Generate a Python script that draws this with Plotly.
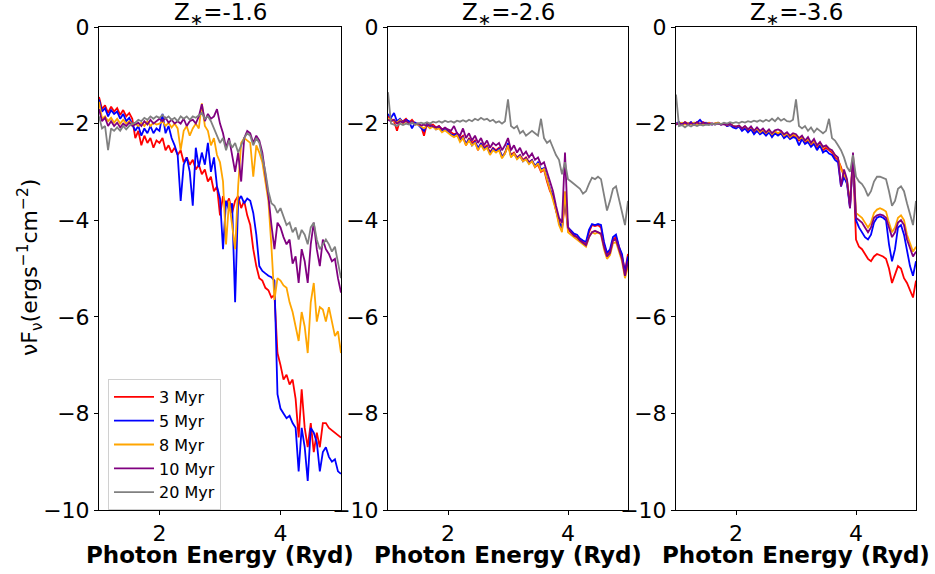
import plotly.graph_objects as go

# Photon energy grid (Ryd), shared by all spectra
energy = [round(1.0 + 0.05 * i, 2) for i in range(81)]

ages = ["3 Myr", "5 Myr", "8 Myr", "10 Myr", "20 Myr"]
colors = ["red", "blue", "orange", "purple", "gray"]
titles = ["Z<sub>∗</sub>=-1.6", "Z<sub>∗</sub>=-2.6", "Z<sub>∗</sub>=-3.6"]
ytick_vals = [0, -2, -4, -6, -8, -10]
xtick_vals = [2, 4]

# ---- Z* = -1.6 ----
p1_3 = [-1.45, -1.70, -1.62, -1.78, -1.65, -1.75, -1.68, -1.82, -1.72, -1.85,
        -1.78, -1.90, -2.30, -2.15, -2.45, -2.25, -2.40, -2.30, -2.50, -2.35,
        -2.40, -2.30, -2.55, -2.45, -2.60, -2.50, -2.65, -2.55, -2.80, -2.70,
        -2.85, -2.75, -2.95, -2.85, -3.05, -2.95, -3.20, -3.10, -3.40, -3.30,
        -3.90, -3.50, -3.70, -3.55, -3.85, -3.60, -3.50, -3.75, -3.60, -3.90,
        -4.10, -4.60, -4.95, -5.20, -5.25, -5.40, -5.45, -5.60, -5.55, -6.75,
        -7.00, -7.30, -7.20, -7.40, -7.30, -7.70, -8.50, -7.50, -8.30, -8.70,
        -8.20, -8.80, -8.40, -8.70, -8.20, -8.20, -8.30, -8.35, -8.40, -8.45,
        -8.50]
p1_5 = [-1.50, -1.75, -1.68, -1.85, -1.72, -1.80, -1.75, -1.90, -1.80, -1.95,
        -1.88, -2.00, -2.15, -2.05, -2.25, -2.10, -2.20, -2.05, -2.20, -2.10,
        -2.15, -1.80, -2.20, -2.05, -2.30, -2.45, -2.65, -3.60, -2.85, -2.70,
        -3.00, -3.70, -2.50, -2.90, -2.60, -2.85, -2.40, -3.00, -2.70, -3.30,
        -3.55, -4.60, -3.60, -3.80, -3.65, -5.70, -3.60, -3.50, -3.65, -3.55,
        -3.60, -3.85, -4.30, -4.95, -5.05, -5.10, -5.15, -5.18, -5.25, -7.60,
        -7.90, -8.00, -8.10, -8.05, -8.20, -8.30, -9.20, -8.30, -8.70, -9.40,
        -8.30, -8.40, -8.60, -9.20, -8.80, -8.70, -8.90, -9.00, -8.95, -9.20,
        -9.25]
p1_8 = [-1.55, -1.90, -1.85, -1.95, -1.88, -1.98, -1.90, -2.00, -1.92, -2.00,
        -1.95, -2.02, -2.00, -2.05, -1.98, -2.05, -1.95, -2.05, -1.98, -2.02,
        -2.00, -1.95, -2.05, -1.98, -2.08, -2.00, -2.10, -2.55, -2.15, -2.05,
        -2.25, -2.10, -2.00, -2.10, -1.58, -2.05, -2.15, -2.45, -2.30, -2.65,
        -2.80, -3.20, -4.50, -3.60, -4.10, -4.60, -3.30, -2.40, -2.30, -2.35,
        -2.40, -3.10, -2.45, -2.60, -2.80, -3.20, -3.60, -4.55, -5.65, -5.20,
        -5.25, -5.35, -5.40, -5.70, -5.90, -6.20, -6.50, -5.90, -6.20, -6.75,
        -5.70, -5.30, -6.10, -5.80, -5.85, -6.10, -5.80, -6.10, -6.40, -6.30,
        -6.75]
p1_10 = [-1.70, -1.95, -1.88, -2.05, -1.95, -2.05, -1.98, -2.08, -2.00, -2.05,
         -1.98, -2.05, -2.02, -1.98, -2.05, -1.95, -2.02, -1.92, -2.00, -1.95,
         -1.90, -1.95, -1.88, -1.98, -1.92, -2.00, -1.95, -2.00, -1.90, -2.05,
         -1.95, -1.92, -2.00, -1.85, -1.60, -1.95, -1.80, -1.90, -1.85, -1.70,
         -2.00, -2.20, -2.50, -2.30, -2.70, -3.00, -2.60, -3.20, -2.30, -2.15,
         -2.20, -2.40, -2.25, -2.35, -2.60, -3.00, -3.50, -4.10, -4.60, -4.05,
         -4.15, -4.35, -4.50, -4.40, -4.90, -4.75, -5.30, -4.60, -4.85, -5.30,
         -4.50, -4.05, -4.60, -4.95, -4.40, -4.60, -4.70, -4.85, -4.80, -5.20,
         -5.50]
p1_20 = [-1.85, -2.10, -2.05, -2.55, -2.10, -2.15, -2.08, -2.15, -2.05, -2.12,
         -2.05, -2.00, -1.98, -1.92, -1.95, -1.88, -1.92, -1.85, -1.90, -1.85,
         -1.88, -1.82, -1.90, -1.85, -1.92, -1.88, -1.95, -1.85, -1.90, -1.85,
         -1.92, -1.85, -1.88, -1.82, -1.78, -1.90, -1.85, -1.95, -2.10, -2.25,
         -2.40, -2.30, -2.55, -2.35, -2.50, -2.40, -2.60, -2.45, -2.30, -2.20,
         -2.25, -2.45, -2.30, -2.40, -2.70, -3.00, -3.40, -3.65, -3.70, -3.85,
         -3.75, -3.95, -4.10, -4.05, -4.25, -4.15, -4.40, -4.20, -4.30, -4.50,
         -4.15, -4.05, -4.40, -4.60, -4.50, -4.40, -4.50, -4.65, -4.55, -4.90,
         -5.20]

# ---- Z* = -2.6 ----
p2_3 = [-1.85, -1.90, -1.95, -2.15, -1.92, -1.95, -1.90, -1.98, -1.92, -2.00,
        -2.00, -2.05, -2.25, -2.00, -2.05, -2.02, -2.08, -2.05, -2.12, -2.10,
        -2.15, -2.18, -2.22, -2.20, -2.30, -2.25, -2.45, -2.30, -2.40, -2.35,
        -2.55, -2.40, -2.50, -2.45, -2.60, -2.50, -2.55, -2.50, -2.70, -2.60,
        -2.45, -2.65, -2.60, -2.70, -2.65, -2.75, -2.70, -2.80, -2.75, -2.90,
        -2.85, -3.00, -2.95, -3.20, -3.40, -3.50, -3.80, -4.00, -4.20, -3.60,
        -4.20, -4.25, -4.30, -4.35, -4.40, -4.45, -4.50, -4.25, -4.10, -4.12,
        -4.10, -4.15, -4.50, -4.70, -4.65, -4.40, -4.35, -4.55, -4.75, -5.05,
        -4.70]
p2_5 = [-1.80, -1.88, -1.78, -1.95, -1.90, -1.98, -1.92, -1.95, -2.10, -1.98,
        -2.02, -2.08, -2.15, -2.02, -2.08, -2.05, -2.12, -2.08, -2.15, -2.12,
        -2.18, -2.22, -2.25, -2.20, -2.35, -2.28, -2.42, -2.32, -2.45, -2.38,
        -2.50, -2.42, -2.52, -2.48, -2.62, -2.52, -2.58, -2.52, -2.68, -2.62,
        -2.40, -2.68, -2.62, -2.72, -2.66, -2.78, -2.72, -2.82, -2.76, -2.88,
        -2.80, -2.95, -2.92, -3.15, -3.35, -3.50, -3.75, -4.05, -4.15, -3.50,
        -4.15, -4.22, -4.28, -4.30, -4.38, -4.42, -4.45, -4.20, -4.08, -4.10,
        -4.08, -4.10, -4.45, -4.68, -4.60, -4.35, -4.30, -4.55, -4.70, -5.10,
        -4.75]
p2_8 = [-1.90, -1.92, -1.95, -1.98, -1.92, -2.00, -1.95, -2.00, -1.96, -2.02,
        -2.02, -2.06, -2.10, -2.04, -2.10, -2.06, -2.12, -2.10, -2.18, -2.14,
        -2.20, -2.24, -2.28, -2.24, -2.38, -2.30, -2.45, -2.35, -2.45, -2.40,
        -2.55, -2.44, -2.55, -2.50, -2.65, -2.55, -2.60, -2.55, -2.72, -2.62,
        -2.45, -2.70, -2.62, -2.74, -2.68, -2.78, -2.74, -2.84, -2.78, -2.90,
        -2.82, -2.98, -2.94, -3.15, -3.35, -3.55, -3.80, -4.10, -4.25, -3.40,
        -4.25, -4.30, -4.35, -4.40, -4.45, -4.50, -4.55, -4.35, -4.25, -4.28,
        -4.25, -4.30, -4.60, -4.80, -4.72, -4.48, -4.45, -4.65, -4.85, -5.20,
        -4.95]
p2_10 = [-1.92, -1.95, -1.92, -2.00, -1.95, -1.98, -1.94, -2.00, -1.95, -2.02,
         -2.00, -2.04, -2.02, -2.05, -2.02, -2.06, -2.08, -2.05, -2.12, -2.08,
         -2.12, -2.15, -2.05, -2.20, -2.25, -2.10, -2.30, -2.20, -2.35, -2.25,
         -2.40, -2.30, -2.45, -2.35, -2.50, -2.40, -2.45, -2.40, -2.55, -2.45,
         -2.30, -2.55, -2.45, -2.60, -2.50, -2.65, -2.58, -2.70, -2.62, -2.75,
         -2.70, -2.85, -2.80, -3.00, -3.20, -3.40, -3.70, -3.95, -4.05, -2.60,
         -4.15, -4.25, -4.32, -4.35, -4.42, -4.48, -4.52, -4.35, -4.25, -4.22,
         -4.25, -4.28, -4.55, -4.75, -4.68, -4.42, -4.40, -4.60, -4.80, -5.15,
         -4.85]
p2_20 = [-1.35, -2.00, -2.02, -2.05, -2.00, -2.03, -2.00, -2.02, -1.98, -2.02,
         -2.00, -1.98, -2.00, -1.97, -2.00, -1.96, -1.98, -1.95, -1.98, -1.94,
         -1.97, -1.95, -1.98, -1.94, -1.96, -1.93, -1.96, -1.92, -1.95, -1.90,
         -1.93, -1.88, -1.92, -1.90, -1.95, -1.92, -1.98, -1.95, -2.00, -1.95,
         -1.50, -2.05, -2.10, -2.05, -2.20, -2.15, -2.25, -2.20, -2.15, -2.20,
         -2.25, -1.90, -2.30, -2.40, -2.35, -2.50, -2.65, -2.75, -3.05, -2.80,
         -3.15, -3.20, -3.25, -3.30, -3.35, -3.45, -3.40, -3.25, -3.12, -3.15,
         -3.10, -3.15, -3.50, -3.80, -3.60, -3.35, -3.30, -3.55, -3.80, -4.10,
         -3.60]

# ---- Z* = -3.6 ----
p3_3 = [-2.00, -1.98, -2.02, -1.97, -2.00, -1.98, -2.03, -1.98, -2.02, -1.97,
        -2.00, -1.98, -2.02, -2.00, -1.98, -2.02, -2.00, -2.05, -2.02, -2.05,
        -2.08, -2.05, -2.12, -2.08, -2.15, -2.10, -2.18, -2.12, -2.20, -2.15,
        -2.22, -2.15, -2.25, -2.18, -2.22, -2.18, -2.28, -2.22, -2.30, -2.25,
        -2.28, -2.35, -2.30, -2.40, -2.35, -2.45, -2.38, -2.50, -2.42, -2.55,
        -2.50, -2.55, -2.60, -2.70, -2.75, -2.90, -3.10, -3.20, -3.70, -2.70,
        -4.40, -4.55, -4.60, -4.70, -4.80, -4.85, -4.75, -4.70, -4.72, -4.75,
        -4.80, -5.00, -5.30, -5.10, -4.95, -5.00, -5.20, -5.30, -5.45, -5.60,
        -5.25]
p3_5 = [-2.00, -1.97, -2.02, -1.98, -2.01, -1.97, -2.02, -1.98, -1.92, -2.00,
        -1.98, -2.00, -2.02, -2.00, -1.98, -2.02, -2.00, -2.05, -2.03, -2.08,
        -2.10, -2.06, -2.15, -2.10, -2.18, -2.12, -2.22, -2.15, -2.22, -2.18,
        -2.25, -2.18, -2.28, -2.20, -2.25, -2.20, -2.30, -2.25, -2.32, -2.28,
        -2.30, -2.45, -2.32, -2.42, -2.38, -2.48, -2.42, -2.55, -2.45, -2.60,
        -2.55, -2.62, -2.65, -2.75, -2.80, -3.30, -3.10, -3.25, -3.75, -2.70,
        -4.00, -4.15, -4.25, -4.35, -4.40, -4.30, -4.05, -3.95, -3.92, -3.95,
        -4.00, -4.50, -4.85, -4.60, -4.15, -4.10, -4.30, -4.60, -4.95, -5.15,
        -4.85]
p3_8 = [-2.00, -2.00, -1.98, -2.02, -1.99, -2.01, -1.98, -2.02, -1.99, -2.01,
        -2.00, -1.99, -2.01, -2.00, -1.98, -2.01, -2.00, -2.03, -2.01, -2.04,
        -2.06, -2.04, -2.10, -2.06, -2.12, -2.08, -2.15, -2.10, -2.18, -2.12,
        -2.20, -2.14, -2.22, -2.16, -2.20, -2.16, -2.25, -2.20, -2.28, -2.22,
        -2.25, -2.32, -2.28, -2.36, -2.32, -2.42, -2.36, -2.46, -2.40, -2.50,
        -2.46, -2.52, -2.56, -2.65, -2.72, -2.95, -3.05, -3.18, -3.65, -2.65,
        -3.85, -3.90, -3.95, -4.05, -4.15, -4.05, -3.85, -3.78, -3.75, -3.78,
        -3.82, -4.05, -4.25, -4.15, -3.95, -3.90, -4.00, -4.30, -4.50, -4.65,
        -4.55]
p3_10 = [-2.02, -1.99, -2.01, -1.98, -2.02, -1.99, -2.01, -1.97, -2.01, -1.98,
         -2.00, -2.01, -1.99, -2.02, -2.00, -2.02, -2.01, -2.03, -2.00, -2.05,
         -2.06, -2.04, -2.10, -2.05, -2.12, -2.06, -2.15, -2.08, -2.15, -2.10,
         -2.18, -2.12, -2.20, -2.14, -2.12, -2.15, -2.22, -2.18, -2.25, -2.20,
         -2.22, -2.30, -2.25, -2.35, -2.28, -2.40, -2.32, -2.45, -2.38, -2.48,
         -2.45, -2.52, -2.55, -2.65, -2.70, -3.30, -2.95, -3.15, -3.75, -2.60,
         -3.95, -4.00, -4.05, -4.15, -4.25, -4.15, -3.95, -3.90, -3.88, -3.90,
         -3.95, -4.15, -4.35, -4.25, -4.05, -4.00, -4.10, -4.40, -4.60, -4.75,
         -4.65]
p3_20 = [-1.40, -2.05, -2.03, -2.08, -2.03, -2.06, -2.02, -2.05, -2.02, -2.04,
         -2.02, -2.03, -2.00, -2.02, -1.99, -2.01, -1.98, -2.00, -1.97, -1.99,
         -1.97, -1.99, -1.96, -1.98, -1.95, -1.97, -1.94, -1.96, -1.93, -1.96,
         -1.92, -1.95, -1.90, -1.95, -1.88, -1.94, -1.90, -1.95, -1.96, -1.92,
         -1.50, -2.05, -2.10, -2.05, -2.15, -2.08, -2.18, -2.10, -2.15, -2.20,
         -2.15, -1.90, -2.30, -2.35, -2.45, -2.55, -2.70, -2.90, -3.00, -2.65,
         -3.10, -3.20, -3.25, -3.35, -3.50, -3.40, -3.20, -3.10, -3.10, -3.12,
         -3.15, -3.40, -3.70, -3.60, -3.35, -3.30, -3.40, -3.65, -3.90, -4.10,
         -3.60]

panels = [
    [p1_3, p1_5, p1_8, p1_10, p1_20],
    [p2_3, p2_5, p2_8, p2_10, p2_20],
    [p3_3, p3_5, p3_8, p3_10, p3_20],
]

W, H = 935, 574
x_px = [(99, 341), (388, 628), (676, 916)]
y_top, y_bot = 27, 510

fig = go.Figure()
for pi, series in enumerate(panels):
    xa = "x" if pi == 0 else f"x{pi+1}"
    ya = "y" if pi == 0 else f"y{pi+1}"
    for si, vals in enumerate(series):
        fig.add_trace(go.Scatter(
            x=energy, y=vals, mode="lines", name=ages[si],
            line=dict(color=colors[si], width=1.8),
            xaxis=xa, yaxis=ya, showlegend=(pi == 0),
        ))

font_family = "DejaVu Sans"
layout = dict(
    width=W, height=H,
    margin=dict(l=0, r=0, t=0, b=0),
    paper_bgcolor="white", plot_bgcolor="white",
    font=dict(family=font_family, color="black", size=22),
    legend=dict(
        x=108 / W, y=1 - 379 / H, xanchor="left", yanchor="top",
        bgcolor="rgba(255,255,255,0.8)", bordercolor="#d0d0d0", borderwidth=1,
        font=dict(size=16, family=font_family), tracegroupgap=0,
        itemwidth=40,
    ),
    annotations=[],
)
for pi in range(3):
    sfx = "" if pi == 0 else str(pi + 1)
    x0, x1 = x_px[pi]
    layout["xaxis" + sfx] = dict(
        domain=[x0 / W, x1 / W], range=[1, 5], tickvals=xtick_vals,
        showline=True, linecolor="black", linewidth=1, mirror=True,
        ticks="outside", ticklen=4, tickcolor="black", showgrid=False,
        zeroline=False, tickfont=dict(size=22), automargin=False,
        anchor="y" + sfx,
    )
    layout["yaxis" + sfx] = dict(
        domain=[1 - y_bot / H, 1 - y_top / H], range=[-10, 0],
        tickvals=ytick_vals,
        showline=True, linecolor="black", linewidth=1, mirror=True,
        ticks="outside", ticklen=4, tickcolor="black", showgrid=False,
        zeroline=False, tickfont=dict(size=22), automargin=False,
        anchor="x" + sfx,
    )
    cx = (x0 + x1) / 2 / W
    layout["annotations"].append(dict(
        text=titles[pi], x=cx, y=1 - 14 / H, xref="paper", yref="paper",
        showarrow=False, xanchor="center", yanchor="middle",
        font=dict(size=23, family=font_family)))
    layout["annotations"].append(dict(
        text="<b>Photon Energy (Ryd)</b>", x=cx, y=1 - 555 / H,
        xref="paper", yref="paper", showarrow=False,
        xanchor="center", yanchor="middle",
        font=dict(size=23, family=font_family)))

layout["annotations"].append(dict(
    text="νF<sub>ν</sub>(ergs<sup>−1</sup>cm<sup>−2</sup>)",
    x=30 / W, y=1 - 268 / H, xref="paper", yref="paper", showarrow=False,
    textangle=-90, xanchor="center", yanchor="middle",
    font=dict(size=22, family=font_family)))

fig.update_layout(**layout)
fig.write_html("out.html")
